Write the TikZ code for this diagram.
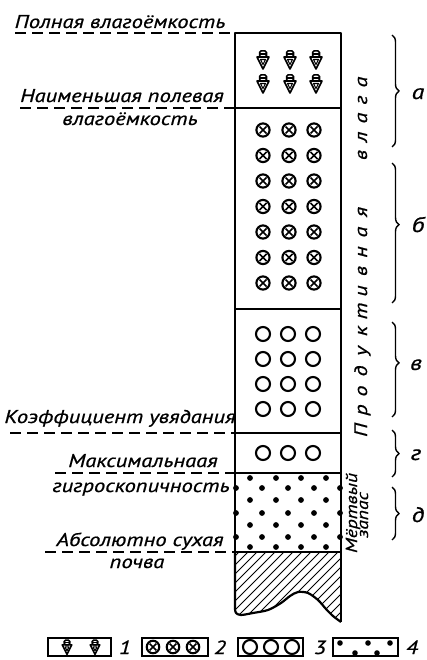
\documentclass[tikz,border=0pt]{standalone}
\usepackage{fontspec}
\usetikzlibrary{decorations.pathreplacing}
\newfontfamily\labfont[FakeStretch=1.22,FakeBold=0.7]{PT Sans Italic}
\begin{document}
\begin{tikzpicture}[x=1pt,y=-1pt,
  lab/.style={font=\labfont\fontsize{18.5}{18}\selectfont, inner sep=0pt, anchor=base},
  vlet/.style={font=\labfont\fontsize{18}{18}\selectfont, inner sep=0pt, rotate=90, anchor=base},
  mlet/.style={font=\labfont\fontsize{16}{16}\selectfont, inner sep=0pt, rotate=90, anchor=base},
  blab/.style={font=\labfont\fontsize{21}{21}\selectfont, inner sep=0pt, anchor=base},
  nlab/.style={font=\labfont\fontsize{19}{19}\selectfont, inner sep=0pt, anchor=base},
  lvl/.style={dash pattern=on 11pt off 6pt, line width=1.1pt},
  frame/.style={line width=2.2pt},
  divider/.style={line width=1.6pt},
  brc/.style={decorate, line width=1.4pt},
  droppic/.pic={
    \draw[line width=1.5pt, rounded corners=1.5pt] (-3.5,0) rectangle (3.5,6);
    \draw[line width=1.1pt] (-3.5,3) -- (3.5,3);
    \draw[line width=1.6pt, line join=round] (-6,6) -- (6,6) -- (0,18) -- cycle;
    \draw[line width=1.1pt, line join=round] (-2.5,8.5) -- (2.5,8.5) -- (0,13.5) -- cycle;
  },
  xcirc/.pic={
    \draw[line width=2.1pt] (0,0) circle (6.6);
    \draw[line width=1.7pt] (-3.5,-3.5) -- (3.5,3.5) (-3.5,3.5) -- (3.5,-3.5);
  },
  ocirc/.pic={
    \draw[line width=2.1pt] (0,0) circle (7);
  }
]
\useasboundingbox (0,0) rectangle (427,660);

% column corners
\coordinate (TL) at (235,33);
\coordinate (TR) at (341,33);
\coordinate (L1) at (235,108); \coordinate (R1) at (341,108);
\coordinate (L2) at (235,309); \coordinate (R2) at (341,309);
\coordinate (L3) at (235,433); \coordinate (R3) at (341,433);
\coordinate (L4) at (235,473); \coordinate (R4) at (341,473);
\coordinate (L5) at (235,552); \coordinate (R5) at (341,552);

% hatched base
\begin{scope}
  \clip (235,552) -- (341,552) -- (341,622) -- plot[smooth] coordinates {(341,622) (333,616) (326,609) (318,600) (308,593) (298,592) (290,596) (281,603) (268,610) (253,613) (241,615) (236,612) (235,609)} -- cycle;
  \foreach \i in {-110,-101,...,120}
    \draw[line width=1pt] (235+\i,630) -- ++(110,-110);
\end{scope}
\draw[frame, line join=round] (L5) -- (235,609) -- plot[smooth] coordinates {(235,609) (236,613) (241,615) (253,613) (268,610) (281,603) (290,596) (298,592) (308,593) (318,600) (326,609) (333,616) (341,622)};

% outline
\draw[frame, line join=round] (L5) -- (TL) -- (TR) -- (341,622);
\draw[divider] (L1) -- (R1);
\draw[divider] (L2) -- (R2);
\draw[divider] (L3) -- (R3);
\draw[divider] (L4) -- (R4);
\draw[divider] (L5) -- (R5);

% section a: drops
\foreach \x in {263,290,316} {
  \pic at (\x,51) {droppic};
  \pic at (\x,75) {droppic};
}
% section b: crossed circles
\foreach \y in {130,155.5,181,206.5,232,257.5,283}
  \foreach \x in {263,289,314}
    \pic at (\x,\y) {xcirc};
% section v: open circles
\foreach \y in {334,359,384,409}
  \foreach \x in {263,288,313}
    \pic at (\x,\y) {ocirc};
% section g
\foreach \x in {263,288,313}
  \pic at (\x,453) {ocirc};
% section d: dots
\foreach \y in {478,500,525,547}
  \foreach \x in {250,276,301,326}
    \fill (\x,\y) circle (2.9);
\foreach \y in {488,513,537}
  \foreach \x in {236,262,288,314,340}
    \fill (\x,\y) circle (2.9);

% left labels and level lines
\node[lab] (t1) at (120,28) {Полная влагоёмкость};
\coordinate (d1) at (15,33);
\draw[lvl] (d1) -- (TL);
\node[lab] (t2) at (122,102) {Наименьшая полевая};
\coordinate (d2) at (20,108);
\draw[lvl] (d2) -- (L1);
\node[lab] (t3) at (130,125) {влагоёмкость};
\node[lab] (t4) at (120,423) {Коэффициент увядания};
\coordinate (d4) at (10,433);
\draw[lvl] (d4) -- (L3);
\node[lab] (t5) at (143,467) {Максимальнаая};
\coordinate (d5) at (55,473);
\draw[lvl] (d5) -- (L4);
\node[lab] (t6) at (141,492) {гигроскопичность};
\node[lab] (t7) at (140,546) {Абсолютно сухая};
\coordinate (d7) at (45,552);
\draw[lvl] (d7) -- (L5);
\node[lab] (t8) at (137,568) {почва};

% vertical spaced text
\foreach \c/\y [count=\k] in {П/430,р/410,о/391,д/371,у/351,к/331,т/311,и/291,в/271,н/252,а/232,я/212,в/155,л/137,а/118,г/100,а/82}
  \node[vlet] (v\k) at (367,\y) {\c};

% dead reserve
\node[mlet] (mz1) at (357,513) {Мёртвый};
\node[mlet] (mz2) at (368,515) {запас};

% braces
\draw[brc, decoration={brace, amplitude=7pt}] (392,35) -- (392,147);
\draw[brc, decoration={brace, amplitude=7pt, aspect=0.44}] (392,163) -- (392,303);
\draw[brc, decoration={brace, amplitude=7pt, aspect=0.43}] (392,322) -- (392,417);
\draw[brc, decoration={brace, amplitude=7pt}] (392,430) -- (392,477);
\draw[brc, decoration={brace, amplitude=7pt}] (392,487) -- (392,540);
\node[blab] (la) at (418,99) {а};
\node[blab] (lb) at (418,232) {б};
\node[blab] (lv) at (416,370) {в};
\node[blab] (lg) at (416,460) {г};
\node[blab] (ld) at (418,522) {д};

% legend
\draw[line width=1.6pt] (48,638) rectangle (111,656);
\pic[scale=0.8] at (67,640) {droppic};
\pic[scale=0.8] at (95,640) {droppic};
\node[nlab] (n1) at (125,654) {1};
\draw[line width=1.6pt] (142,638) rectangle (208,656);
\foreach \x in {153,173,193} \pic[scale=0.95] at (\x,647) {xcirc};
\node[nlab] (n2) at (220,654) {2};
\draw[line width=1.6pt] (238,638) rectangle (303,656);
\foreach \x in {250,271,292} \pic at (\x,647) {ocirc};
\node[nlab] (n3) at (320,654) {3};
\draw[line width=1.6pt] (333,638) rectangle (398,656);
\foreach \x/\y in {340/643,368/643,390/643,355/653,377/653} \fill (\x,\y) circle (2.8);
\node[nlab] (n4) at (412,654) {4};
\end{tikzpicture}
\end{document}
